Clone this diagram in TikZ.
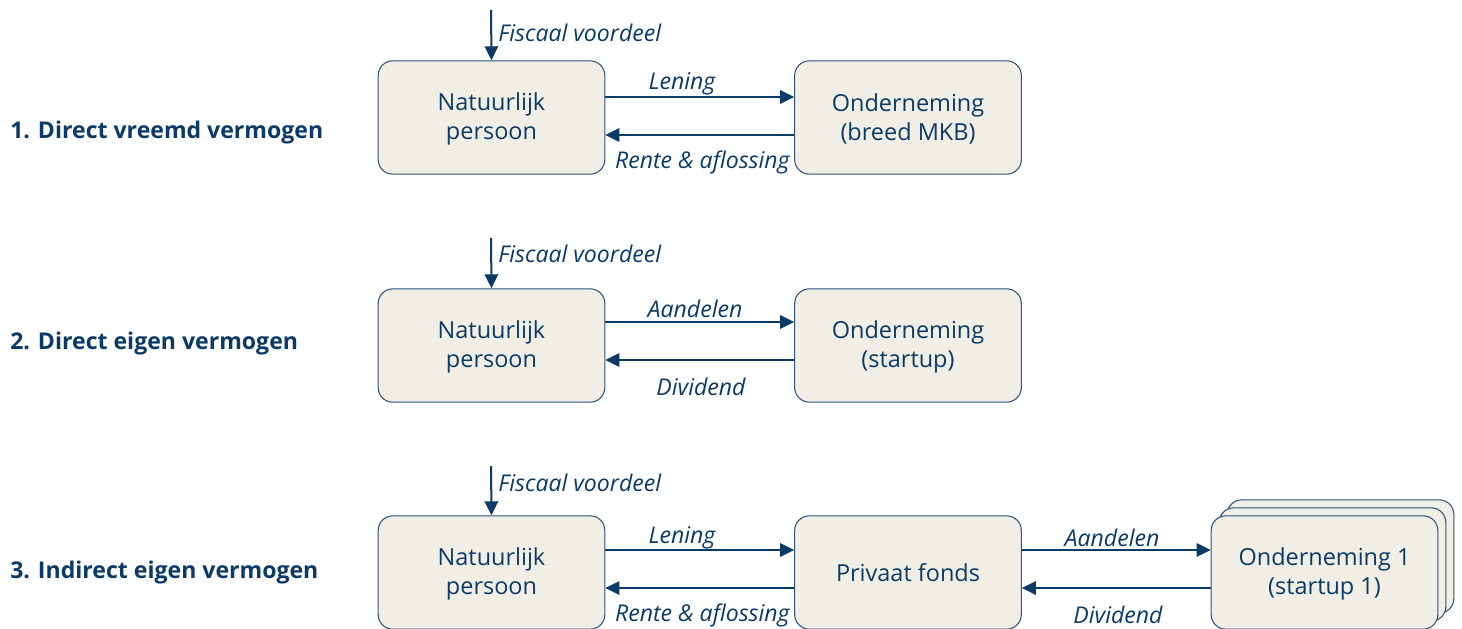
\documentclass[tikz,border=0pt]{standalone}
\usepackage{fontspec}
\setmainfont{Open Sans}
\usetikzlibrary{arrows.meta}
\definecolor{navy}{HTML}{0B3A66}
\definecolor{boxfill}{HTML}{F1EEE6}
\definecolor{boxline}{HTML}{2E557E}
\tikzset{
  unit/.style={draw=boxline, fill=boxfill, line width=0.8pt, rounded corners=11pt,
    minimum width=170pt, minimum height=85pt, align=center, text=navy,
    font=\fontsize{17.6}{22}\selectfont},
  flow/.style={draw=navy, line width=1.5pt, -{Triangle[length=10.5pt,width=10pt]}},
  lbl/.style={text=navy, font=\fontsize{17.3}{20}\selectfont\itshape, inner sep=0pt},
  rowtitle/.style={text=navy, font=\fontsize{17.3}{20}\selectfont\bfseries, anchor=west, inner sep=0pt}
}
\begin{document}
\begin{tikzpicture}[x=0.75pt, y=-0.75pt]
\useasboundingbox (0,0) rectangle (1462,628);

% Row 1: direct debt
\node[rowtitle] (t1) at (10,133) {1. Direct vreemd vermogen};
\node[unit] (p1) at (491.5,117.5) {\strut Natuurlijk\\persoon};
\node[unit] (o1) at (908,117.5) {\strut Onderneming\\(breed MKB)};
\coordinate (f1) at (491,10);
\draw[flow] (f1) -- (p1.north);
\node[lbl, anchor=west] (fv1) at (498,33) {Fiscaal voordeel};
\draw[flow] (p1.east |- 0,97) -- (o1.west |- 0,97);
\node[lbl] (l1) at (682,84) {Lening};
\draw[flow] (o1.west |- 0,135) -- (p1.east |- 0,135);
\node[lbl, anchor=east] (r1) at (790,162) {Rente \& aflossing};

% Row 2: direct equity
\node[rowtitle] (t2) at (10,344) {2. Direct eigen vermogen};
\node[unit] (p2) at (491.5,345.5) {\strut Natuurlijk\\persoon};
\node[unit] (o2) at (908,345.5) {\strut Onderneming\\(startup)};
\coordinate (f2) at (491,238);
\draw[flow] (f2) -- (p2.north);
\node[lbl, anchor=west] (fv2) at (498,254) {Fiscaal voordeel};
\draw[flow] (p2.east |- 0,322) -- (o2.west |- 0,322);
\node[lbl] (a2) at (695,309) {Aandelen};
\draw[flow] (o2.west |- 0,360) -- (p2.east |- 0,360);
\node[lbl] (d2) at (701,387) {Dividend};

% Row 3: indirect equity via a private fund
\node[rowtitle] (t3) at (10,572) {3. Indirect eigen vermogen};
\node[unit] (p3) at (491.5,572.5) {\strut Natuurlijk\\persoon};
\node[unit] (fd) at (908,572.5) {Privaat fonds};
\node[unit] (s3c) at (1340.5,556.5) {};
\node[unit] (s3b) at (1332.5,564.5) {};
\node[unit] (s3) at (1324.5,572.5) {\strut Onderneming 1\\(startup 1)};
\coordinate (f3) at (491,466);
\draw[flow] (f3) -- (p3.north);
\node[lbl, anchor=west] (fv3) at (498,483) {Fiscaal voordeel};
\draw[flow] (p3.east |- 0,550) -- (fd.west |- 0,550);
\node[lbl] (l3) at (682,538) {Lening};
\draw[flow] (fd.west |- 0,588) -- (p3.east |- 0,588);
\node[lbl, anchor=east] (r3) at (790,615) {Rente \& aflossing};
\draw[flow] (fd.east |- 0,550) -- (s3.west |- 0,550);
\node[lbl] (a3) at (1112,538) {Aandelen};
\draw[flow] (s3.west |- 0,588) -- (fd.east |- 0,588);
\node[lbl] (d3) at (1118,615) {Dividend};
\end{tikzpicture}
\end{document}
